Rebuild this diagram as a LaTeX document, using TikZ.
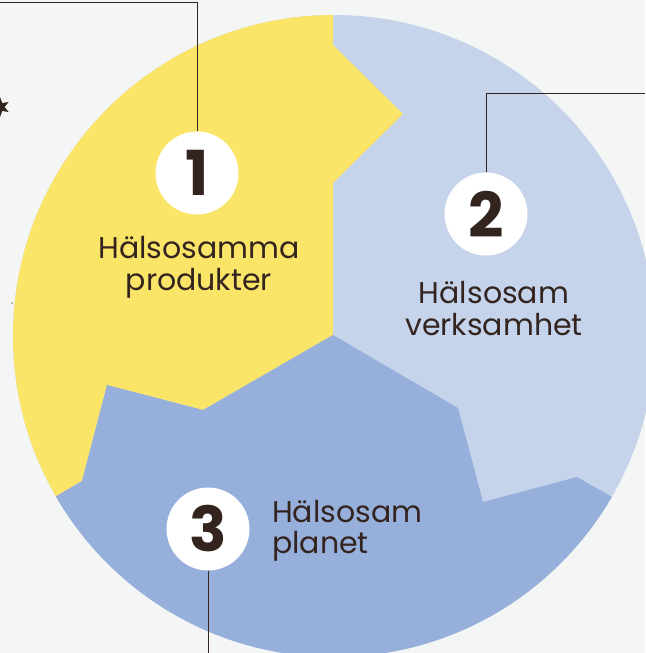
\documentclass[tikz,border=0pt]{standalone}
\usepackage{fontspec}
\setmainfont{Poppins}
\usetikzlibrary{shapes.geometric}
\definecolor{bgc}{HTML}{F4F6F5}
\definecolor{yel}{HTML}{FBE569}
\definecolor{lblue}{HTML}{C5D4EB}
\definecolor{mblue}{HTML}{96B0DB}
\definecolor{ink}{HTML}{33241F}
\tikzset{
  numcircle/.style={circle,fill=white,minimum size=83pt,inner sep=0pt,text=ink,font=\fontsize{62}{62}\selectfont\bfseries},
  lbl/.style={text=ink,font=\fontsize{30}{32}\selectfont,inner sep=0pt},
  conn/.style={draw=ink,line width=1pt}
}
\begin{document}
\begin{tikzpicture}[x=1pt,y=-1pt]
\useasboundingbox (0,0) rectangle (645,653);
\fill[bgc] (0,0) rectangle (645,653);
\begin{scope}
  \clip (334,336) circle[radius=321];
  \fill[lblue] (0,0) rectangle (700,700);
  \fill[yel] (333,-20) -- (333,45) -- (403,114) -- (333,183) -- (333,335)
     -- (203,410) -- (107,385) -- (82,481) -- (-20,541) -- (-20,-20) -- cycle;
  \fill[mblue] (333,335) -- (458,408) -- (483,502) -- (577,477) -- (700,547)
     -- (700,700) -- (-20,700) -- (-20,541) -- (82,481) -- (107,385) -- (203,410) -- cycle;
\end{scope}
% star and dot
\node[star,star points=6,star point ratio=2.2,fill=ink,minimum size=20pt,inner sep=0pt] (st) at (0,107) {};
\fill[ink!60] (12,303) circle[radius=0.8];
% number circles
\node[numcircle] (n1) at (197,173) {1};
\node[numcircle] (n2) at (486,214) {2};
\node[numcircle] (n3) at (208,529) {3};
\coordinate (c1) at (0,2);
\coordinate (c2) at (645,93);
\coordinate (c3) at (208,653);
\draw[conn] (n1.north) |- (c1);
\draw[conn] (n2.north) |- (c2);
\draw[conn] (n3.south) -- (c3);
% labels
\node[lbl,anchor=base] (t1a) at (199,258) {Hälsosamma};
\node[lbl,anchor=base] (t1b) at (199,290) {produkter};
\node[lbl,anchor=base] (t2a) at (494,303) {Hälsosam};
\node[lbl,anchor=base] (t2b) at (494,335) {verksamhet};
\node[lbl,anchor=base west] (t3a) at (272,522) {Hälsosam};
\node[lbl,anchor=base west] (t3b) at (272,553) {planet};
\end{tikzpicture}
\end{document}
